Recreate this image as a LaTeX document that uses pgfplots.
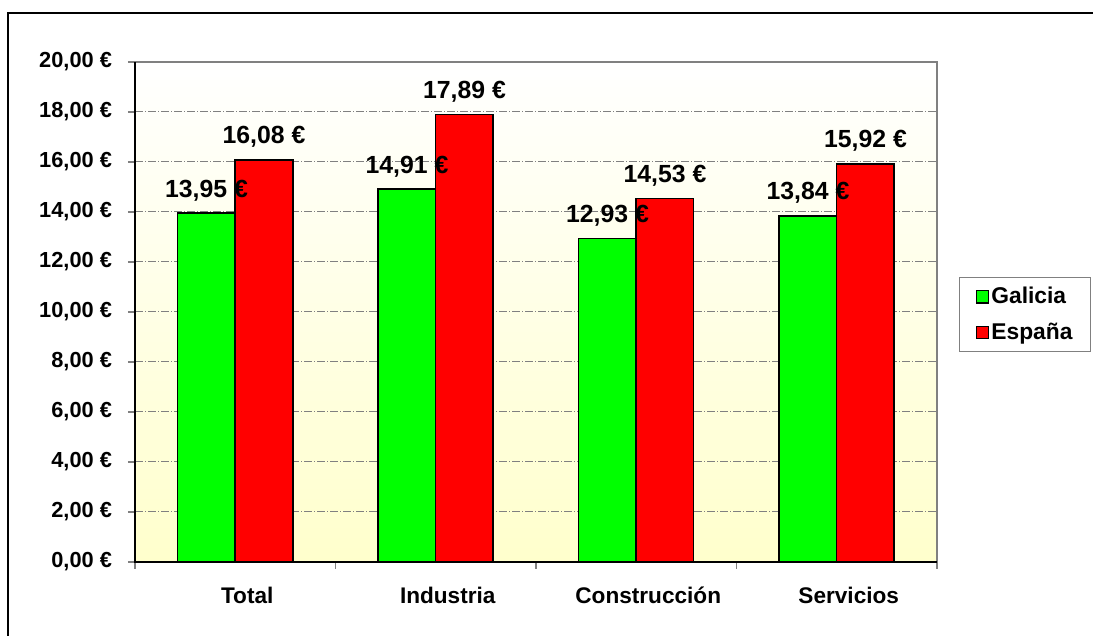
\documentclass[border=0pt]{standalone}
\usepackage{fontspec}
\setmainfont{Liberation Sans}
\usepackage{pgfplots}
\pgfplotsset{compat=1.18}
\definecolor{ltyellow}{RGB}{255,255,204}
\definecolor{bargreen}{RGB}{0,255,0}
\definecolor{barred}{RGB}{255,0,0}
\definecolor{gridgray}{RGB}{128,128,128}
\pgfplotsset{
  mylegend/.style={legend image code/.code={\draw[##1,draw=black,line width=0.7pt] (0pt,-3.1pt) rectangle (6.2pt,3.1pt);}},
}
\begin{document}
\begin{tikzpicture}[x=1pt,y=1pt]
\useasboundingbox (0,0) rectangle (546.5,318);
\fill[white] (0,0) rectangle (546.5,318);
\draw[line width=1pt] (4,-1) -- (4,311.5) -- (547,311.5);
\begin{axis}[
  at={(67.5pt,37pt)}, anchor=south west,
  scale only axis, width=401pt, height=250pt,
  ybar=0pt, bar width=28.75pt,
  xmin=-0.5, xmax=3.5, ymin=0, ymax=20,
  xtick={-0.5,0.5,1.5,2.5,3.5}, xticklabels={},
  extra x ticks={0,1,2,3},
  extra x tick labels={Total,Industria,Construcción,Servicios},
  extra x tick style={major tick length=0pt, xticklabel style={anchor=base, yshift=-21pt, xshift=6pt}},
  xtick pos=bottom, ytick pos=left,
  ytick={0,2,...,20},
  yticklabels={{0,00 €},{2,00 €},{4,00 €},{6,00 €},{8,00 €},{10,00 €},{12,00 €},{14,00 €},{16,00 €},{18,00 €},{20,00 €}},
  /pgf/number format/assume math mode=true,
  tick align=outside,
  major tick length=3.5pt,
  tick style={draw=gridgray, line width=0.6pt},
  yticklabel style={font=\bfseries\fontsize{10.9}{12}\selectfont, anchor=east, xshift=-4.5pt},
  xticklabel style={font=\bfseries\fontsize{11.3}{12}\selectfont},
  ymajorgrids,
  grid style={draw=gridgray, line width=0.5pt, dash pattern=on 4pt off 1pt on 0.5pt off 1pt},
  axis line style={draw=none},
  axis background/.style={shade, top color=white, bottom color=ltyellow},
  nodes near coords={\pgfmathprintnumber[fixed,fixed zerofill,precision=2,use comma]{\pgfplotspointmeta}~€},
  every node near coord/.append style={anchor=base, yshift=8pt, font=\bfseries\fontsize{12.4}{14}\selectfont, text=black},
  legend style={at={(1.0274,0.57)}, anchor=north west, draw=gridgray, line width=0.6pt, fill=white,
    font=\bfseries\fontsize{11.4}{12}\selectfont, inner xsep=8pt, inner ysep=2.8pt, row sep=4pt,
    nodes={inner xsep=1pt}},
  legend cell align=left,
  clip=false,
]
\addplot[fill=bargreen, draw=black, line width=0.75pt, mylegend] coordinates {(0,13.95) (1,14.91) (2,12.93) (3,13.84)};
\addplot[fill=barred, draw=black, line width=0.75pt, mylegend] coordinates {(0,16.08) (1,17.89) (2,14.53) (3,15.92)};
\legend{Galicia,España}
\draw[gridgray, line width=1.2pt] (rel axis cs:0,1) -- (rel axis cs:1,1) -- (rel axis cs:1,0);
\draw[black, line width=0.7pt] (rel axis cs:1,0) -- (rel axis cs:0,0) -- (rel axis cs:0,1);
\end{axis}
\end{tikzpicture}
\end{document}
